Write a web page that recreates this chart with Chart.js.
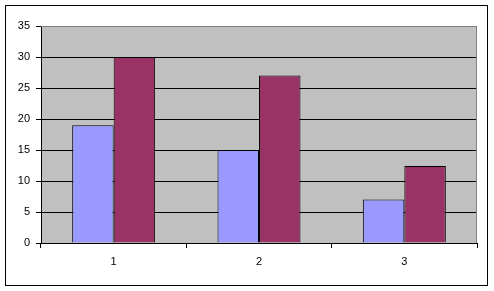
<!DOCTYPE html>
<html>
<head>
<meta charset="utf-8">
<script src="https://cdn.jsdelivr.net/npm/chart.js@4/dist/chart.umd.min.js"></script>
<style>
  html, body { margin: 0; padding: 0; background: #fff; }
  #wrap { width: 494px; height: 291px; }
</style>
</head>
<body>
<div id="wrap"><canvas id="bar" width="494" height="291"></canvas></div>
<script>
var categories = ["1", "2", "3"];
var serie1 = [19, 15, 7];
var serie2 = [30, 27, 12.4];
var yTicks = [0, 5, 10, 15, 20, 25, 30, 35];

// fond gris + cadre de la zone de tracé + cadre du graphique
var cadre = {
  id: "cadre",
  beforeDraw: function(chart) {
    var c = chart.ctx, a = chart.chartArea;
    c.save();
    c.fillStyle = "#fff";
    c.fillRect(0, 0, chart.width, chart.height);
    c.fillStyle = "#C0C0C0";
    c.fillRect(a.left, a.top, a.right - a.left, a.bottom - a.top);
    c.restore();
  },
  afterDraw: function(chart) {
    var c = chart.ctx, a = chart.chartArea;
    c.save();
    c.strokeStyle = "#808080";
    c.lineWidth = 1;
    c.beginPath();
    c.moveTo(a.left, a.top + 0.5);
    c.lineTo(a.right - 0.5, a.top + 0.5);
    c.lineTo(a.right - 0.5, a.bottom);
    c.stroke();
    c.strokeStyle = "#000";
    c.strokeRect(5.5, 5.5, 482, 280);
    c.restore();
  }
};

new Chart(document.getElementById("bar").getContext("2d"), {
  type: "bar",
  data: {
    labels: categories,
    datasets: [
      {label: "Série1", data: serie1, backgroundColor: "#9999FF", borderColor: "#000", borderWidth: 1,
       categoryPercentage: 0.571, barPercentage: 1},
      {label: "Série2", data: serie2, backgroundColor: "#993366", borderColor: "#000", borderWidth: 1,
       categoryPercentage: 0.571, barPercentage: 1}
    ]
  },
  options: {
    responsive: false,
    animation: false,
    layout: {padding: {top: 26, right: 17, left: 0, bottom: 0}},
    plugins: {legend: {display: false}, tooltip: {enabled: false}},
    scales: {
      x: {
        grid: {drawOnChartArea: false, offset: true, color: "#000", tickLength: 5, tickColor: "#000"},
        border: {color: "#000"},
        ticks: {color: "#000", font: {family: "Liberation Sans", size: 11}, padding: 7},
        afterFit: function(s) { s.height = 48; }
      },
      y: {
        min: 0, max: 35,
        afterBuildTicks: function(s) { s.ticks = yTicks.map(function(v){ return {value: v}; }); },
        grid: {color: "#000", tickLength: 5, tickColor: "#000"},
        border: {color: "#000"},
        ticks: {color: "#000", font: {family: "Liberation Sans", size: 11}, padding: 6},
        afterFit: function(s) { s.width = 41; }
      }
    }
  },
  plugins: [cadre]
});
</script>
</body>
</html>
